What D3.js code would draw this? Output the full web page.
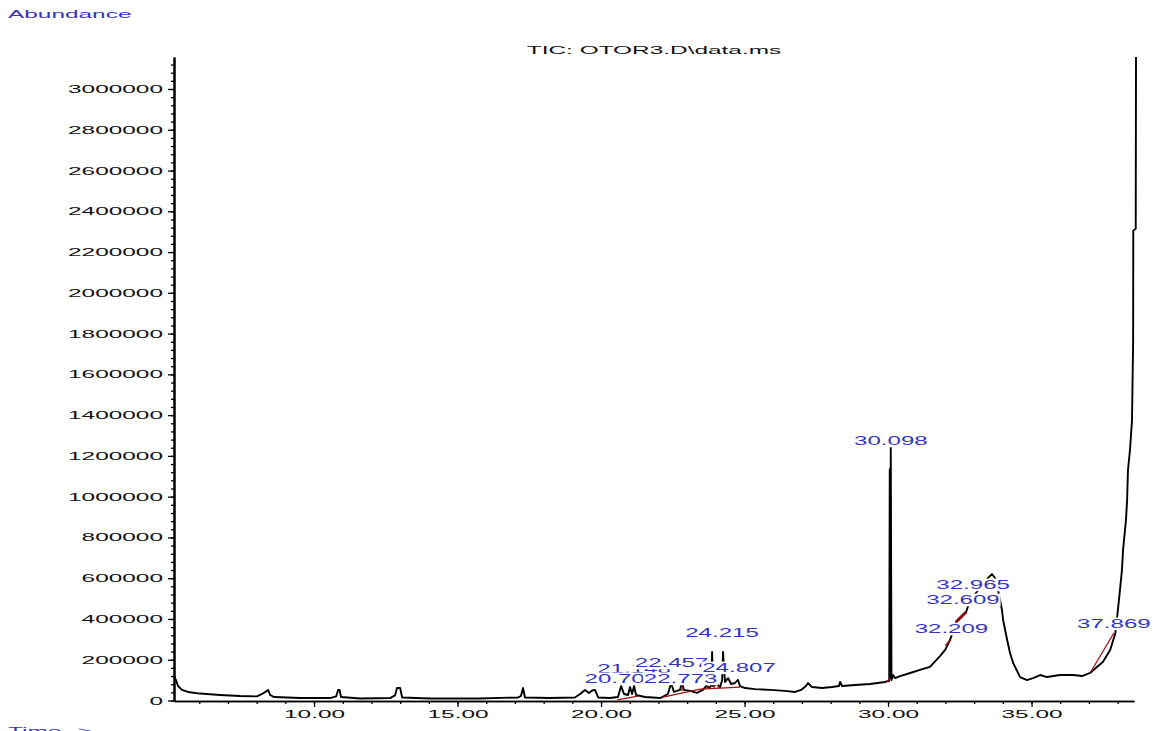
<!DOCTYPE html>
<html>
<head>
<meta charset="utf-8">
<script src="https://cdn.jsdelivr.net/npm/d3@7"></script>
<style>
  body { margin: 0; background: #fff; }
  svg { display: block; font-family: "Liberation Sans", Arial, sans-serif; }
</style>
</head>
<body>
<svg id="chart" width="1158" height="731"></svg>
<script>
// TIC trace (minutes / abundance)
const traceTime = [
  5.12, 5.19, 5.26, 5.40, 5.61, 6.03, 6.72, 7.42, 8.01, 8.19, 8.36, 8.40, 8.47, 8.61,
  9.51, 10.56, 10.77, 10.84, 10.89, 10.94, 11.60, 12.65, 12.82, 12.89, 13.00, 13.07,
  14.04, 15.78, 17.11, 17.21, 17.28, 17.35, 18.22, 19.09, 19.27, 19.44, 19.58, 19.69,
  19.79, 19.90, 20.31, 20.59, 20.70, 20.80, 20.94, 21.01, 21.08, 21.15, 21.22, 21.53,
  22.06, 22.33, 22.44, 22.54, 22.75, 22.82, 22.89, 23.10, 23.34, 23.55, 23.66, 23.76,
  23.83, 23.87, 23.90, 24.04, 24.15, 24.22, 24.25, 24.32, 24.43, 24.53, 24.67, 24.77,
  24.84, 25.02, 25.37, 25.89, 26.41, 26.76, 26.97, 27.14, 27.21, 27.35, 27.70, 28.05,
  28.29, 28.33, 28.40, 28.85, 29.37, 29.90, 30.00, 30.04, 30.06, 30.08, 30.095, 30.12,
  30.17, 30.24, 30.42, 30.77, 31.11, 31.46, 31.81, 31.99, 32.16, 32.37, 32.72, 32.86,
  33.21, 33.48, 33.62, 33.73, 33.87, 33.97, 34.01, 34.15, 34.25, 34.36, 34.60, 34.84,
  35.05, 35.30, 35.54, 35.99, 36.45, 36.76, 37.04, 37.49, 37.74, 37.92, 37.98, 38.08,
  38.15, 38.19, 38.29, 38.33, 38.36, 38.43, 38.50, 38.54, 38.545, 38.63, 38.64
];
const traceAbundance = [
  120000, 100000, 71000, 52000, 42000, 34000, 27000, 22000, 20000, 32000, 47000, 52000, 27000, 17000,
  12000, 12000, 20000, 52000, 52000, 17000, 10000, 12000, 25000, 61000, 61000, 15000,
  10000, 10000, 15000, 22000, 61000, 15000, 12000, 15000, 32000, 52000, 37000, 49000,
  52000, 15000, 12000, 17000, 71000, 32000, 27000, 66000, 32000, 71000, 27000, 17000,
  12000, 32000, 86000, 42000, 52000, 86000, 52000, 47000, 37000, 52000, 71000, 61000,
  71000, 238000, 71000, 81000, 66000, 101000, 238000, 91000, 110000, 81000, 86000, 101000,
  71000, 61000, 56000, 52000, 47000, 42000, 52000, 71000, 86000, 66000, 61000, 66000,
  71000, 91000, 71000, 76000, 81000, 91000, 96000, 96000, 1135000, 110000, 1250000, 100000,
  125000, 110000, 120000, 135000, 150000, 165000, 218000, 248000, 297000, 385000, 434000, 493000,
  552000, 601000, 620000, 601000, 517000, 444000, 395000, 297000, 233000, 184000, 115000, 100000,
  110000, 125000, 115000, 125000, 125000, 120000, 135000, 190000, 248000, 330000, 405000, 540000,
  640000, 740000, 885000, 983000, 1130000, 1229000, 1374000, 1766000, 2305000, 2315000, 3157000
];

// integration baselines (red)
const baselineSegments = [
  [[20.56, 3000], [21.29, 22000]],
  [[22.16, 17000], [23.45, 56000], [24.84, 66000]],
  [[29.93, 88000], [30.07, 108000]],
  [[32.00, 270000], [32.16, 297000]],
  [[37.04, 135000], [37.87, 331000]]
];
const thickBaseline = [[32.37, 385000], [32.72, 434000]];
const dropLines = [[22.82, 45000, 80000], [23.73, 57000, 75000], [23.94, 60000, 80000], [24.08, 62000, 84000]];

// peak annotations
const peakLabels = ["21.148", "20.706", "22.457", "22.773", "24.807", "24.215", "30.098", "32.209", "32.609", "32.965", "37.869"];
const peakTimes = [21.148, 20.706, 22.457, 22.773, 24.807, 24.215, 30.098, 32.209, 32.609, 32.965, 37.869];
const peakLabelLevels = [135000, 86000, 164000, 86000, 140000, 311000, 1253000, 331000, 473000, 547000, 356000];

const xTicks = [10, 15, 20, 25, 30, 35];
const yTicks = [0, 200000, 400000, 600000, 800000, 1000000, 1200000, 1400000, 1600000,
  1800000, 2000000, 2200000, 2400000, 2600000, 2800000, 3000000];
const yMax = 3157000;

const blue = "#3434b8";
const stretchK = 2.22;   // the screenshot is widened horizontally

let svg = d3.select("#chart");

let x = d3.scaleLinear().domain([5.12, 38.57]).range([174, 1134]);
let y = d3.scaleLinear().domain([0, yMax]).range([700.5, 57]);

function addText(parent, px, py, str, size, k, anchor, color) {
  let g = parent.append("g").attr("transform", "translate(" + px + "," + py + ") scale(" + k + ",1)");
  g.append("text")
      .attr("text-anchor", anchor)
      .attr("font-size", size)
      .attr("fill", color)
      .text(str);
  return g;
}

// titles
addText(svg, 8, 17.5, "Abundance", 11, stretchK, "start", blue);
addText(svg, 654, 53.5, "TIC: OTOR3.D\\data.ms", 11, stretchK, "middle", "#111");
addText(svg, 8, 735, "Time-->", 11, stretchK, "start", blue);

// x axis
let xAxisG = svg.append("g").attr("transform", "translate(0,701)");
xAxisG.append("g")
    .call(d3.axisBottom(x).tickValues(d3.range(6, 39, 1)).tickSize(3).tickSizeOuter(0).tickFormat(""));
xAxisG.append("g")
    .call(d3.axisBottom(x).tickValues(xTicks).tickSize(6).tickSizeOuter(0).tickPadding(3).tickFormat(d3.format(".2f")));

// y axis
let yAxisG = svg.append("g").attr("transform", "translate(174,0)");
yAxisG.append("g")
    .call(d3.axisLeft(y).tickValues(d3.range(0, yMax, 40000)).tickSize(3).tickSizeOuter(0).tickFormat(""));
yAxisG.append("g")
    .call(d3.axisLeft(y).tickValues(yTicks).tickSize(6).tickSizeOuter(0).tickPadding(5).tickFormat(d3.format("d")));

svg.selectAll(".domain").attr("stroke", "#000");
yAxisG.selectAll(".domain").attr("stroke-width", 2);
xAxisG.selectAll(".domain").attr("stroke-width", 1.5);
svg.selectAll(".tick line").attr("stroke", "#000").attr("stroke-width", 1.3);

// stretch tick labels like the original picture
svg.selectAll(".tick text")
    .attr("font-family", "Liberation Sans, Arial, sans-serif")
    .attr("font-size", 11)
    .attr("fill", "#111");
xAxisG.selectAll(".tick text")
    .attr("transform", "scale(" + stretchK + ",1)");
yAxisG.selectAll(".tick text")
    .attr("x", -11 / stretchK)
    .attr("transform", "scale(" + stretchK + ",1)");

// trace
let traceLine = d3.line()
    .x(i => x(traceTime[i]))
    .y(i => y(traceAbundance[i]));
svg.append("path")
    .datum(d3.range(traceTime.length))
    .attr("d", traceLine)
    .attr("fill", "none")
    .attr("stroke", "#000")
    .attr("stroke-width", 1.9)
    .attr("stroke-linejoin", "round");

// baselines
let segLine = d3.line().x(d => x(d[0])).y(d => y(d[1]));
baselineSegments.forEach(seg => {
  svg.append("path")
      .attr("d", segLine(seg))
      .attr("fill", "none")
      .attr("stroke", "#a01010")
      .attr("stroke-width", 1.3);
});
svg.append("path")
    .attr("d", segLine(thickBaseline))
    .attr("fill", "none")
    .attr("stroke", "#8a0c0c")
    .attr("stroke-width", 3);
dropLines.forEach(d => {
  svg.append("line")
      .attr("x1", x(d[0])).attr("x2", x(d[0]))
      .attr("y1", y(d[1])).attr("y2", y(d[2]))
      .attr("stroke", "#a01010")
      .attr("stroke-width", 1.3);
});

// peak labels, each on a white box that hides what lies under it
peakLabels.forEach((lab, i) => {
  let g = addText(svg, x(peakTimes[i]), y(peakLabelLevels[i]), lab, 13, 1.85, "middle", blue);
  let bb = g.select("text").node().getBBox();
  g.insert("rect", "text")
      .attr("x", bb.x - 0.5)
      .attr("y", bb.y + 1)
      .attr("width", bb.width + 1)
      .attr("height", bb.height - 1.5)
      .attr("fill", "#fff");
});
</script>
</body>
</html>
